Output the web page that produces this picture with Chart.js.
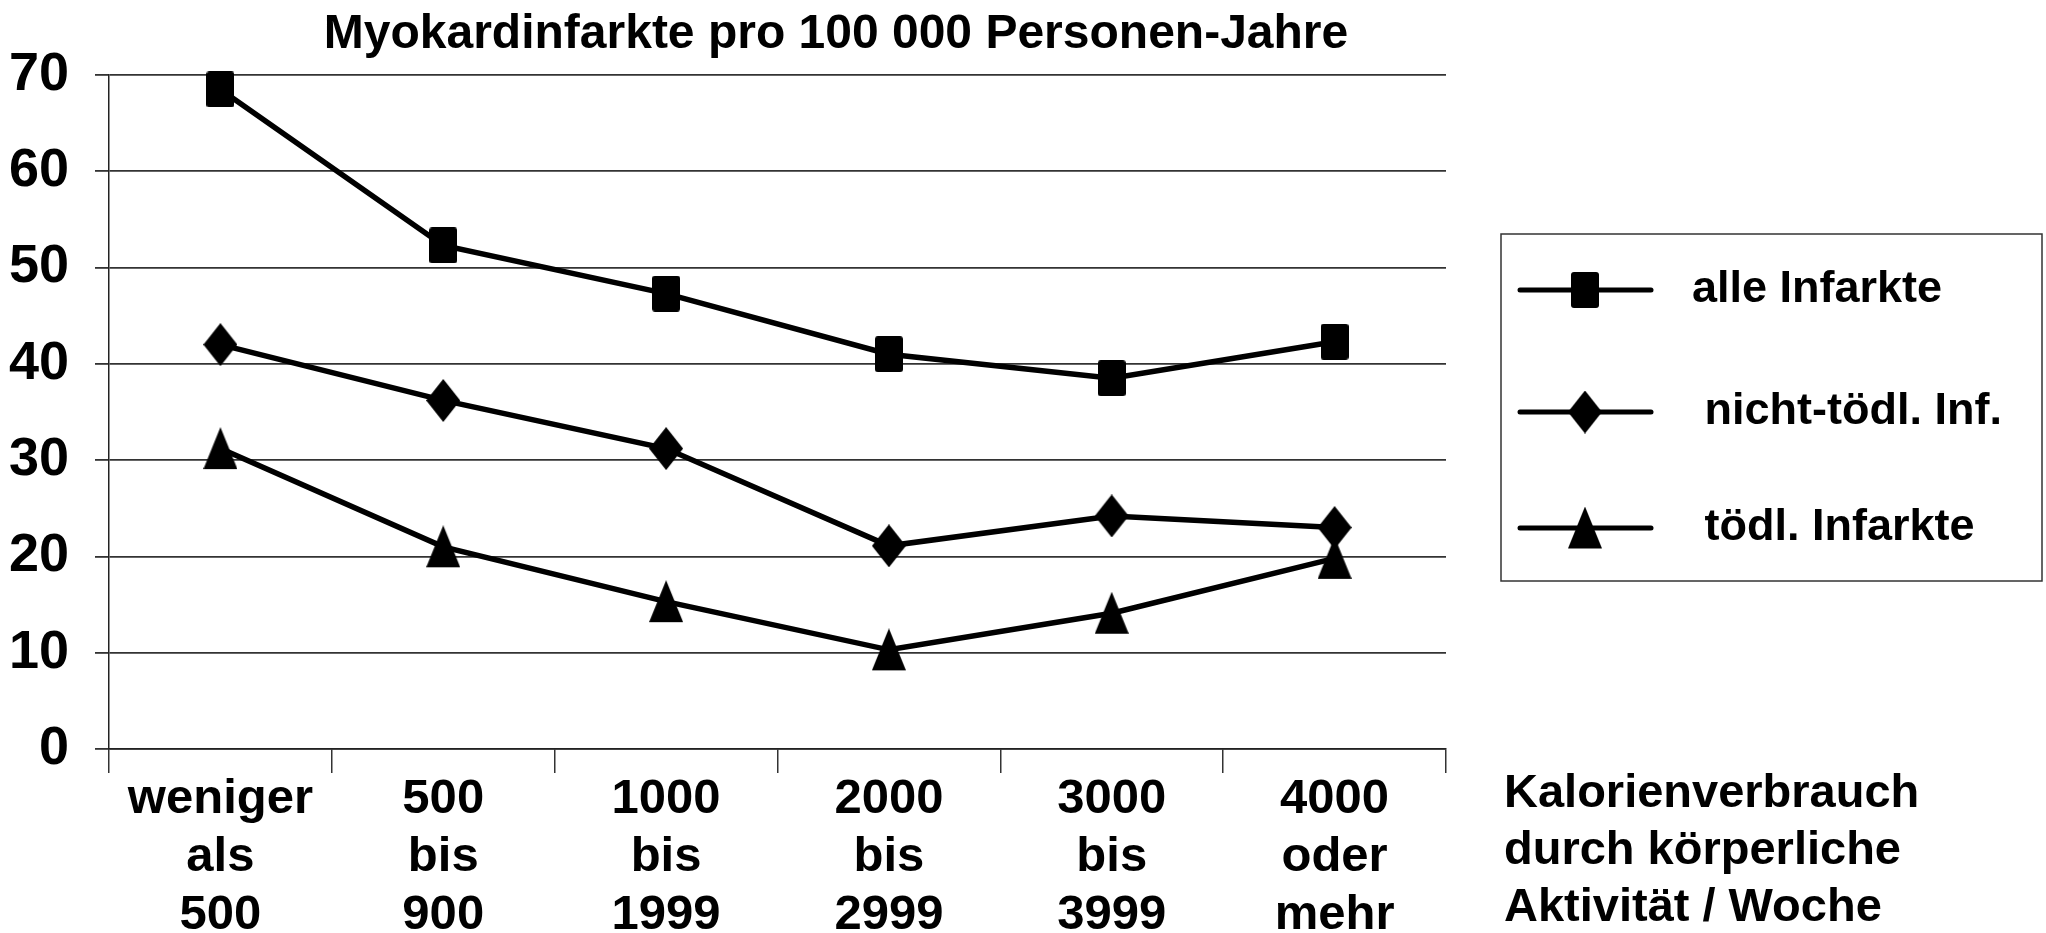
<!DOCTYPE html>
<html>
<head>
<meta charset="utf-8">
<script src="https://cdn.jsdelivr.net/npm/chart.js@4.4.0/dist/chart.umd.min.js"></script>
<style>
    html, body { margin: 0; padding: 0; background: #fff; }
</style>
</head>
<body>
<canvas id="chart" width="2046" height="933"></canvas>
<script>
// Daten
const categories = [
    ['weniger', 'als', '500'],
    ['500', 'bis', '900'],
    ['1000', 'bis', '1999'],
    ['2000', 'bis', '2999'],
    ['3000', 'bis', '3999'],
    ['4000', 'oder', 'mehr']
];
const alleInfarkte = [68.5, 52.3, 47.3, 41.0, 38.5, 42.3];
const nichtToedlich = [42.0, 36.2, 31.2, 21.1, 24.2, 23.0];
const toedlich = [31.2, 21.0, 15.3, 10.3, 14.1, 19.8];
const seriesNames = ['alle Infarkte', ' nicht-tödl. Inf.', ' tödl. Infarkte'];
const yTicks = [0, 10, 20, 30, 40, 50, 60, 70];
const titleText = 'Myokardinfarkte pro 100 000 Personen-Jahre';
const xTitleLines = ['Kalorienverbrauch', 'durch körperliche', 'Aktivität / Woche'];

const FONT = '"Liberation Sans", Arial, sans-serif';

// Marker als kleine Canvas-Bilder
function makeMarker(kind) {
    const c = document.createElement('canvas');
    const w = kind === 'square' ? 28 : 34;
    const h = kind === 'square' ? 36 : 43;
    c.width = w;
    c.height = h;
    const g = c.getContext('2d');
    g.fillStyle = '#000';
    g.beginPath();
    if (kind === 'square') {
        g.roundRect(0, 0, w, h, 3);
    } else if (kind === 'diamond') {
        g.moveTo(w / 2, 0);
        g.lineTo(w, h / 2);
        g.lineTo(w / 2, h);
        g.lineTo(0, h / 2);
        g.closePath();
    } else {
        g.moveTo(w / 2, 0);
        g.lineTo(w, h - 1);
        g.lineTo(0, h - 1);
        g.closePath();
    }
    g.fill();
    return c;
}

const markers = [makeMarker('square'), makeMarker('diamond'), makeMarker('triangle')];

// Titel, Legende und Achsentitel
const decorations = {
    id: 'decorations',
    afterDraw(chart) {
        const ctx = chart.ctx;
        ctx.save();
        ctx.fillStyle = '#000';
        ctx.textBaseline = 'middle';

        ctx.font = 'bold 48px ' + FONT;
        ctx.textAlign = 'center';
        ctx.fillText(titleText, 836, 35);

        // Legende
        ctx.strokeStyle = '#333';
        ctx.lineWidth = 1.5;
        ctx.strokeRect(1501, 234, 541, 347);
        const rows = [290, 412, 528];
        ctx.font = 'bold 45px ' + FONT;
        ctx.textAlign = 'left';
        chart.data.datasets.forEach(function(ds, i) {
            const y = rows[i];
            ctx.beginPath();
            ctx.lineWidth = 5;
            ctx.lineCap = 'round';
            ctx.strokeStyle = '#000';
            ctx.moveTo(1520, y);
            ctx.lineTo(1651, y);
            ctx.stroke();
            const m = ds.pointStyle;
            ctx.drawImage(m, 1585 - m.width / 2, y - m.height / 2);
            ctx.fillText(ds.label, 1692, y);
        });

        // x-Achsentitel
        ctx.font = 'bold 47px ' + FONT;
        xTitleLines.forEach(function(line, i) {
            ctx.fillText(line, 1504, 794 + i * 57);
        });
        ctx.restore();
    }
};

const seriesData = [alleInfarkte, nichtToedlich, toedlich];

const ctx = document.getElementById('chart').getContext('2d');
new Chart(ctx, {
    type: 'line',
    data: {
        labels: categories,
        datasets: seriesData.map(function(values, i) {
            return {
                label: seriesNames[i],
                data: values,
                borderColor: '#000',
                backgroundColor: '#000',
                borderWidth: 5.5,
                pointStyle: markers[i],
                pointRadius: 18,
                tension: 0,
                clip: false
            };
        })
    },
    options: {
        responsive: false,
        animation: false,
        events: [],
        layout: {
            padding: { top: 75, right: 600, left: 0, bottom: 0 }
        },
        plugins: {
            legend: { display: false },
            title: { display: false },
            tooltip: { enabled: false }
        },
        scales: {
            x: {
                offset: true,
                grid: {
                    offset: true,
                    drawOnChartArea: false,
                    drawTicks: true,
                    tickLength: 24,
                    color: '#333',
                    lineWidth: 1.5
                },
                border: { color: '#222', width: 1.5 },
                ticks: {
                    color: '#000',
                    padding: -2,
                    maxRotation: 0,
                    autoSkip: false,
                    font: { family: FONT, size: 49, weight: 'bold', lineHeight: 1.18 }
                },
                afterFit: function(scale) { scale.height = 184; }
            },
            y: {
                min: 0,
                max: 70,
                afterBuildTicks: function(scale) {
                    scale.ticks = yTicks.map(function(v) { return { value: v }; });
                },
                grid: {
                    color: '#333',
                    lineWidth: 1.8,
                    tickLength: 14
                },
                border: { color: '#222', width: 1.5 },
                ticks: {
                    color: '#000',
                    padding: 26,
                    font: { family: FONT, size: 54, weight: 'bold' }
                },
                afterFit: function(scale) { scale.width = 109; }
            }
        }
    },
    plugins: [decorations]
});
</script>
</body>
</html>
